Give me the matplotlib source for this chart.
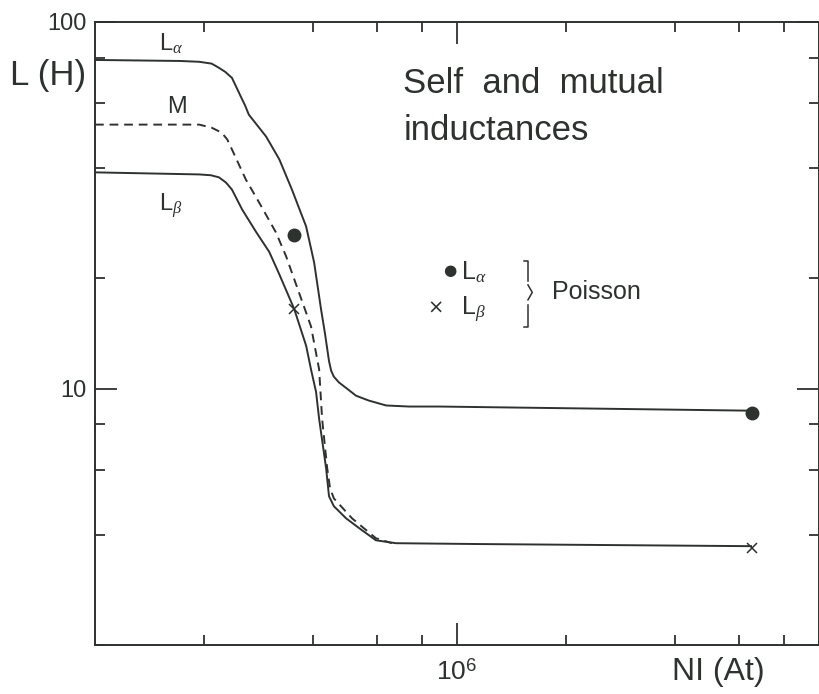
import matplotlib
matplotlib.use('Agg')
import matplotlib.pyplot as plt
from matplotlib.ticker import LogLocator, NullFormatter, FixedLocator, FixedFormatter
from matplotlib.lines import Line2D

plt.rcParams['font.family'] = ['Liberation Sans', 'DejaVu Sans']
plt.rcParams['mathtext.fontset'] = 'custom'
plt.rcParams['mathtext.rm'] = 'Liberation Sans'
plt.rcParams['mathtext.it'] = 'Liberation Serif:italic'

ink = '#2e322f'

# curves (NI in At, L in H)
la_x = [1.0e5, 1.71e5, 1.94e5, 2.10e5, 2.20e5, 2.29e5, 2.39e5, 2.53e5, 2.60e5, 2.66e5,
        2.97e5, 3.23e5, 3.50e5, 3.83e5, 4.03e5, 4.21e5, 4.32e5, 4.43e5, 4.49e5, 4.57e5,
        4.72e5, 4.97e5, 5.26e5, 5.71e5, 6.37e5, 7.37e5, 8.92e5, 6.5e6]
la_y = [78.8, 78.3, 77.9, 77.0, 75.0, 73.1, 70.4, 62.5, 59.1, 55.9,
        48.7, 42.2, 34.9, 27.7, 22.1, 16.5, 14.1, 11.9, 11.2, 10.78,
        10.4, 10.0, 9.57, 9.28, 9.0, 8.94, 8.94, 8.71]

m_x = [1.0e5, 1.94e5, 2.10e5, 2.24e5, 2.32e5, 2.39e5, 2.61e5, 2.84e5, 3.16e5, 3.37e5,
       3.61e5, 3.95e5, 4.16e5, 4.24e5, 4.38e5, 4.46e5, 4.57e5, 5.13e5, 5.97e5, 6.61e5]
m_y = [52.5, 52.5, 51.5, 49.9, 47.8, 44.9, 37.2, 32.2, 26.7, 23.0,
       19.0, 14.8, 11.3, 8.28, 6.06, 5.35, 5.02, 4.43, 3.91, 3.79]

lb_x = [1.0e5, 1.94e5, 2.09e5, 2.20e5, 2.30e5, 2.39e5, 2.55e5, 2.79e5, 3.03e5, 3.23e5,
        3.55e5, 3.83e5, 3.95e5, 4.08e5, 4.16e5, 4.35e5, 4.43e5, 4.57e5, 4.94e5, 5.36e5,
        5.97e5, 6.78e5, 1.15e6, 6.49e6]
lb_y = [38.9, 38.4, 38.2, 37.7, 36.5, 34.9, 30.8, 26.7, 23.6, 20.5,
        16.5, 13.1, 11.3, 9.8, 8.28, 6.06, 5.09, 4.78, 4.43, 4.17,
        3.86, 3.79, 3.77, 3.72]

# Poisson results
pa_x = [3.55e5, 6.53e6]
pa_y = [26.2, 8.6]
pb_x = [3.55e5, 6.53e6]
pb_y = [16.5, 3.67]

fig = plt.figure(figsize=(8.2, 6.94), dpi=100)
ax = fig.add_axes([95/820, 1-645/694, 724/820, 623/694])

ax.plot(la_x, la_y, color=ink, lw=1.4)
ax.plot(m_x, m_y, color=ink, lw=1.4, dashes=(4.5, 3))
ax.plot(lb_x, lb_y, color=ink, lw=1.4)
ax.plot(pa_x, pa_y, 'o', color=ink, ms=9)
ax.plot(pb_x, pb_y, 'x', color=ink, ms=7, mew=1.1)

ax.set_xscale('log')
ax.set_yscale('log')
ax.set_xlim(1e5, 1e7)
ax.set_ylim(2, 100)

ax.xaxis.set_major_locator(FixedLocator([1e6]))
ax.xaxis.set_major_formatter(FixedFormatter(['10$^6$']))
ax.xaxis.set_minor_locator(LogLocator(base=10, subs=(2, 4, 6, 8)))
ax.xaxis.set_minor_formatter(NullFormatter())
ax.yaxis.set_major_locator(FixedLocator([10, 100]))
ax.yaxis.set_major_formatter(FixedFormatter(['10', '100']))
ax.yaxis.set_minor_locator(LogLocator(base=10, subs=(2, 4, 6, 8)))
ax.yaxis.set_minor_formatter(NullFormatter())

ax.tick_params(which='both', direction='in', top=True, right=True, color=ink, width=1.3,
               labelcolor=ink, labelsize=17)
ax.tick_params(which='major', length=16)
ax.tick_params(which='minor', length=7)
ax.tick_params(axis='x', pad=10, labelsize=19)
ax.tick_params(axis='y', pad=6)
for s in ax.spines.values():
    s.set_color(ink)
    s.set_linewidth(1.4)

# axis titles placed like the original
fig.text(10/820, 1-76/694, 'L (H)', fontsize=25, color=ink, va='center', ha='left')
fig.text(765/820, 1-672/694, 'NI (At)', fontsize=23, color=ink, va='center', ha='right')

# curve labels
ax.text(0.088, 0.965, r'L$_{\alpha}$', transform=ax.transAxes, fontsize=17, color=ink,
        va='center', ha='left')
ax.text(0.100, 0.864, 'M', transform=ax.transAxes, fontsize=17, color=ink,
        va='center', ha='left')
ax.text(0.088, 0.705, r'L$_{\beta}$', transform=ax.transAxes, fontsize=17, color=ink,
        va='center', ha='left')

ax.text(0.426, 0.864, 'Self  and  mutual\ninductances', transform=ax.transAxes, fontsize=25,
        color=ink, va='center', ha='left', linespacing=1.55)

# Poisson key
ax.text(0.490, 0.601, '●', transform=ax.transAxes, fontsize=11, color=ink,
        va='center', ha='center', family=['DejaVu Sans'])
ax.text(0.470, 0.540, '×', transform=ax.transAxes, fontsize=14, color=ink,
        va='center', ha='center', family=['DejaVu Sans'])
ax.text(0.505, 0.598, r'L$_{\alpha}$', transform=ax.transAxes, fontsize=18, color=ink,
        va='center', ha='left')
ax.text(0.505, 0.537, r'L$_{\beta}$', transform=ax.transAxes, fontsize=18, color=ink,
        va='center', ha='left')
ax.text(0.631, 0.566, 'Poisson', transform=ax.transAxes, fontsize=18, color=ink,
        va='center', ha='left')
br = dict(color=ink, lw=1.1, transform=ax.transAxes)
ax.add_line(Line2D([0.592, 0.598, 0.598], [0.616, 0.616, 0.584], **br))
ax.add_line(Line2D([0.598, 0.604, 0.598], [0.578, 0.566, 0.554], **br))
ax.add_line(Line2D([0.598, 0.598, 0.592], [0.546, 0.511, 0.511], **br))

fig.savefig('out.png', dpi=100)
